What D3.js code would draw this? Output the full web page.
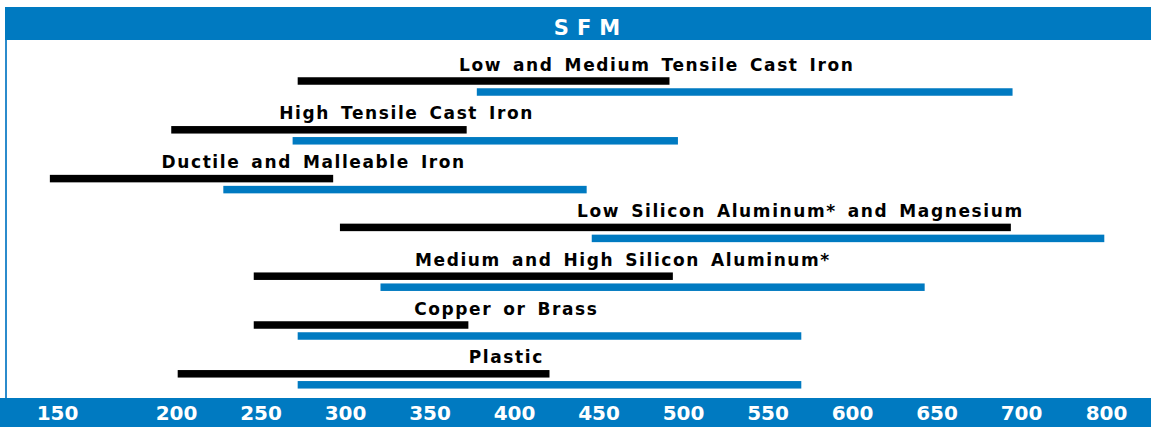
<!DOCTYPE html>
<html>
<head>
<meta charset="utf-8">
<script src="https://cdn.jsdelivr.net/npm/d3@7"></script>
<style>
  html, body { margin: 0; padding: 0; background: #fff; }
  svg { display: block; }
</style>
</head>
<body>
<svg id="chart" width="1151" height="427"></svg>
<script>
// ---- data ----
const categories = [
  "Low and Medium Tensile Cast Iron",
  "High Tensile Cast Iron",
  "Ductile and Malleable Iron",
  "Low Silicon Aluminum* and Magnesium",
  "Medium and High Silicon Aluminum*",
  "Copper or Brass",
  "Plastic"
];
// black range (SFM)
const blackLow  = [272, 198, 147, 297, 246, 246, 201];
const blackHigh = [492, 372, 293, 694, 494, 373, 421];
// blue range (SFM)
const blueLow   = [378, 269, 228, 446, 321, 272, 272];
const blueHigh  = [695, 497, 443, 798, 643, 570, 570];
// label centre (SFM units)
const labelAt   = [484, 336, 281, 569, 464, 395, 395];
const tickValues = [150, 200, 250, 300, 350, 400, 450, 500, 550, 600, 650, 700, 800];
const title = "SFM";

// ---- drawing ----
const W = 1151, H = 427;
const BLUE = "#007ac1";
const svg = d3.select("#chart");

// broken (piecewise) scale as in the original artwork
const x = d3.scaleLinear()
  .domain([150, 200, 700, 800])
  .range([57, 176, 1021, 1106]);

const y = d3.scalePoint()
  .domain(categories)
  .range([81, 373.8]);

// frame
svg.append("line")
  .attr("x1", 6).attr("x2", 6).attr("y1", 7).attr("y2", 398)
  .attr("stroke", "#2b8bcc").attr("stroke-width", 2);

svg.append("rect")
  .attr("x", 5).attr("y", 7).attr("width", W - 5).attr("height", 33)
  .attr("fill", BLUE);

svg.append("text")
  .attr("x", 591).attr("y", 35)
  .attr("text-anchor", "middle")
  .attr("fill", "#fff")
  .attr("font-family", "DejaVu Sans")
  .attr("font-weight", "bold")
  .attr("font-size", 21)
  .attr("letter-spacing", "8px")
  .text(title);

svg.append("rect")
  .attr("x", 0).attr("y", 398).attr("width", W).attr("height", H - 398)
  .attr("fill", BLUE);

const rows = categories.map((c, i) => ({
  name: c, b0: blackLow[i], b1: blackHigh[i], u0: blueLow[i], u1: blueHigh[i], lab: labelAt[i]
}));

const barH = 7.5;
const g = svg.append("g");

g.selectAll("rect.black").data(rows).join("rect")
  .attr("class", "black")
  .attr("x", d => x(d.b0))
  .attr("width", d => x(d.b1) - x(d.b0))
  .attr("y", d => y(d.name) - barH / 2)
  .attr("height", barH)
  .attr("fill", "#000");

g.selectAll("rect.blue").data(rows).join("rect")
  .attr("class", "blue")
  .attr("x", d => x(d.u0))
  .attr("width", d => x(d.u1) - x(d.u0))
  .attr("y", d => y(d.name) + 11 - barH / 2)
  .attr("height", barH)
  .attr("fill", BLUE);

g.selectAll("text.lab").data(rows).join("text")
  .attr("class", "lab")
  .attr("x", d => x(d.lab) + 0.8)
  .attr("y", d => y(d.name) - 10.5)
  .attr("text-anchor", "middle")
  .attr("font-family", "DejaVu Sans")
  .attr("font-weight", "bold")
  .attr("font-size", 17)
  .attr("letter-spacing", "1.6px")
  .attr("word-spacing", "3.5px")
  .attr("fill", "#000")
  .text(d => d.name);

// axis labels
const axis = d3.axisBottom(x).tickValues(tickValues).tickSize(0).tickPadding(0)
  .tickFormat(d3.format("d"));
const ax = svg.append("g").attr("transform", "translate(0,405)").call(axis);
ax.select(".domain").remove();
ax.selectAll("text")
  .attr("fill", "#fff")
  .attr("font-family", "DejaVu Sans")
  .attr("font-weight", "bold")
  .attr("font-size", 20)
  .attr("dy", "0.76em");
</script>
</body>
</html>
